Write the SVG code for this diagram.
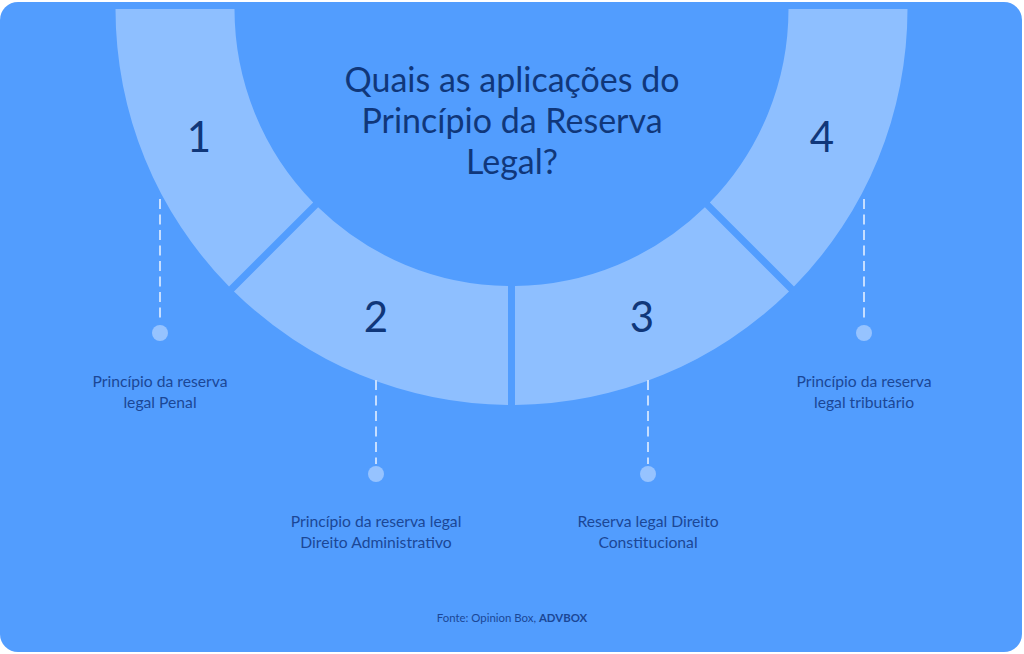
<svg xmlns="http://www.w3.org/2000/svg" width="1024" height="654" viewBox="0 0 1024 654">
<style>
.seg{fill:#8EBFFF}
.num{font-family:Lato,"Liberation Sans",sans-serif;font-size:42px;fill:#10377A;text-anchor:middle}
.title{font-family:Lato,"Liberation Sans",sans-serif;font-size:34px;fill:#10377A;text-anchor:middle}
.lbl{font-family:Lato,"Liberation Sans",sans-serif;font-size:15.7px;fill:#1B4796;text-anchor:middle}
.foot{font-family:Lato,"Liberation Sans",sans-serif;font-size:11.4px;fill:#1B4796;text-anchor:middle}
.dash{stroke:#C6DEFF;stroke-width:2;stroke-dasharray:10 5.5;fill:none}
.dot{fill:#96C3FF}
</style>
<rect x="0" y="0" width="1024" height="654" fill="#FFFFFF"/>
<rect id="background" x="0" y="2" width="1022" height="650" rx="18" fill="#529DFE"/>
<g id="segment-1">
<path class="seg" d="M115.5,9 A396,396 0 0 0 229.02,286.53 L313.17,202.38 A277,277 0 0 1 234.5,9 Z"/>
<text class="num" x="199" y="152">1</text>
</g>
<g id="segment-2">
<path class="seg" d="M233.97,291.48 A396,396 0 0 0 508,404.98 L508,285.98 A277,277 0 0 1 318.13,207.33 Z"/>
<text class="num" x="376" y="332">2</text>
</g>
<g id="segment-3">
<path class="seg" d="M515,404.98 A396,396 0 0 0 789.03,291.48 L704.88,207.33 A277,277 0 0 1 515,285.98 Z"/>
<text class="num" x="642" y="332">3</text>
</g>
<g id="segment-4">
<path class="seg" d="M793.98,286.53 A396,396 0 0 0 907.5,9 L788.5,9 A277,277 0 0 1 709.83,202.38 Z"/>
<text class="num" x="822" y="152">4</text>
</g>
<g id="title">
<text class="title" x="512" y="92">Quais as aplicações do</text>
<text class="title" x="512" y="133">Princípio da Reserva</text>
<text class="title" x="512" y="174">Legal?</text>
</g>
<g id="connectors">
<line class="dash" x1="160" y1="199" x2="160" y2="323"/>
<line class="dash" x1="376" y1="380" x2="376" y2="464"/>
<line class="dash" x1="648" y1="380" x2="648" y2="464"/>
<line class="dash" x1="864" y1="199" x2="864" y2="323"/>
</g>
<g id="label-1">
<circle class="dot" cx="160" cy="333" r="8"/>
<text class="lbl" x="160" y="387">Princípio da reserva</text>
<text class="lbl" x="160" y="408">legal Penal</text>
</g>
<g id="label-2">
<circle class="dot" cx="376" cy="474" r="8"/>
<text class="lbl" x="376" y="527">Princípio da reserva legal</text>
<text class="lbl" x="376" y="548">Direito Administrativo</text>
</g>
<g id="label-3">
<circle class="dot" cx="648" cy="474" r="8"/>
<text class="lbl" x="648" y="527">Reserva legal Direito</text>
<text class="lbl" x="648" y="548">Constitucional</text>
</g>
<g id="label-4">
<circle class="dot" cx="864" cy="333" r="8"/>
<text class="lbl" x="864" y="387">Princípio da reserva</text>
<text class="lbl" x="864" y="408">legal tributário</text>
</g>
<g id="footer">
<text class="foot" x="512" y="622">Fonte: Opinion Box, <tspan font-weight="bold">ADVBOX</tspan></text>
</g>
</svg>
